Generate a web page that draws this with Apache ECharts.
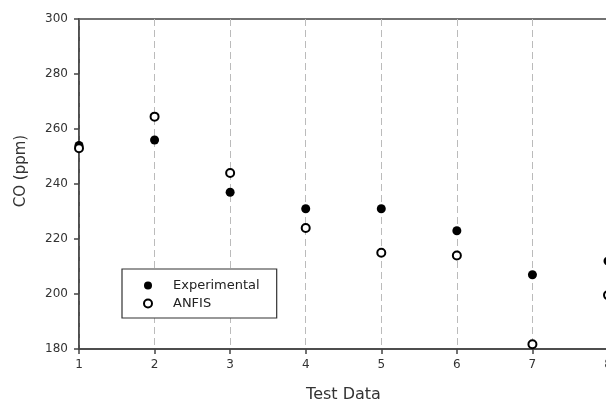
<!DOCTYPE html>
<html>
<head>
<meta charset="utf-8">
<script src="https://cdn.jsdelivr.net/npm/echarts@6/dist/echarts.min.js"></script>
<style>
  html, body { margin: 0; padding: 0; background: #fff; }
  #chart { width: 606px; height: 403px; }
</style>
</head>
<body>
<div id="chart"></div>
<script>
// test data index 1..8
const testData = [1, 2, 3, 4, 5, 6, 7, 8]
const experimental = [254, 256, 237, 231, 231, 223, 207, 212]
const anfis = [253, 264.5, 244, 224, 215, 214, 181.7, 199.6]
const yTicks = [180, 200, 220, 240, 260, 280, 300]

const font = 'DejaVu Sans'
const textColor = '#333'
const axisColor = '#444'

const chart = echarts.init(document.getElementById('chart'))

const option = {
  animation: false,
  textStyle: { fontFamily: font },
  grid: {
    left: 79,
    top: 19,
    right: -2,
    bottom: 54,
    outerBoundsMode: 'none',
    containLabel: false,
    show: true,
    borderColor: axisColor,
    borderWidth: 1.5,
    backgroundColor: 'transparent'
  },
  legend: {
    left: 122,
    top: 269,
    orient: 'vertical',
    backgroundColor: '#fff',
    borderColor: '#333',
    borderWidth: 1.2,
    borderRadius: 0,
    padding: [10, 17, 8, 21],
    itemWidth: 40,
    itemHeight: 8,
    itemGap: 5,
    textStyle: { fontFamily: font, fontSize: 13, color: '#222' },
    data: [
      { name: 'Experimental', icon: 'circle' },
      { name: 'ANFIS', icon: 'emptyCircle', itemStyle: { borderWidth: 1.2 } }
    ]
  },
  xAxis: {
    type: 'value',
    min: 1,
    max: 8,
    interval: 1,
    name: 'Test Data',
    nameLocation: 'middle',
    nameGap: 38,
    nameTextStyle: { fontFamily: font, fontSize: 16, color: textColor },
    axisLine: { show: true, lineStyle: { color: axisColor, width: 1.5 } },
    axisTick: { show: true, length: 5, lineStyle: { color: axisColor, width: 1.5 } },
    axisLabel: { fontFamily: font, fontSize: 12, color: textColor, margin: 10 },
    splitLine: { show: true, lineStyle: { color: '#bbb', width: 1, type: [7, 4] } }
  },
  yAxis: {
    type: 'value',
    min: yTicks[0],
    max: yTicks[yTicks.length - 1],
    interval: 20,
    name: 'CO (ppm)',
    nameLocation: 'middle',
    nameGap: 50,
    nameTextStyle: { fontFamily: font, fontSize: 15, color: textColor, padding: [0, 0, 0, 26] },
    axisLine: { show: true, lineStyle: { color: axisColor, width: 1.5 } },
    axisTick: { show: true, length: 5, lineStyle: { color: axisColor, width: 1.5 } },
    axisLabel: { fontFamily: font, fontSize: 12, color: textColor, margin: 11 },
    splitLine: { show: false }
  },
  series: [
    {
      name: 'Experimental',
      type: 'scatter',
      symbol: 'circle',
      symbolSize: 9,
      itemStyle: { color: '#000', opacity: 1 },
      data: testData.map((x, i) => [x, experimental[i]])
    },
    {
      name: 'ANFIS',
      type: 'scatter',
      symbol: 'emptyCircle',
      symbolSize: 8,
      itemStyle: { color: '#000', borderColor: '#000', borderWidth: 1.2, opacity: 1 },
      data: testData.map((x, i) => [x, anfis[i]])
    }
  ]
}

chart.setOption(option)
</script>
</body>
</html>
